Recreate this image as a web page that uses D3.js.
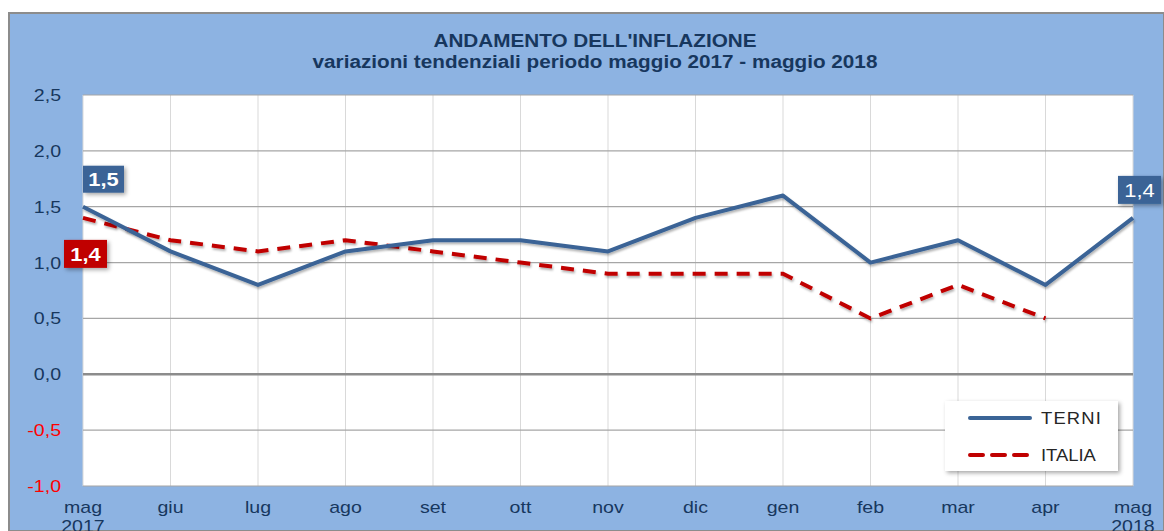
<!DOCTYPE html>
<html>
<head>
<meta charset="utf-8">
<script src="https://cdn.jsdelivr.net/npm/d3@7"></script>
<style>
  html, body { margin: 0; padding: 0; background: #fff; }
  svg { display: block; font-family: "Liberation Sans", Arial, sans-serif; }
</style>
</head>
<body>
<div id="outlet"></div>
<script>
// chart data
const months = ["mag", "giu", "lug", "ago", "set", "ott", "nov", "dic", "gen", "feb", "mar", "apr", "mag"];
const years = ["2017", "", "", "", "", "", "", "", "", "", "", "", "2018"];
const terni = [1.5, 1.1, 0.8, 1.1, 1.2, 1.2, 1.1, 1.4, 1.6, 1.0, 1.2, 0.8, 1.4];
const italia = [1.4, 1.2, 1.1, 1.2, 1.1, 1.0, 0.9, 0.9, 0.9, 0.5, 0.8, 0.5, null];
const yTicks = [-1.0, -0.5, 0.0, 0.5, 1.0, 1.5, 2.0, 2.5];
const title = "ANDAMENTO DELL'INFLAZIONE";
const subtitle = "variazioni tendenziali periodo maggio 2017 - maggio 2018";

const width = 1164, height = 531;
const marginTop = 95, marginRight = 31, marginBottom = 45, marginLeft = 83;
const blueBg = "#8db3e2", textBlue = "#17375e";
const terniColor = "#3a6496", italiaColor = "#c00000";
const stretch = 1.15; // the original text is a bit wider than the font

const fmt = (v) => d3.format(".1f")(v).replace(".", ",").replace("−", "-");

const xScale = d3.scalePoint()
  .domain(d3.range(months.length))
  .range([marginLeft, width - marginRight]);
const yScale = d3.scaleLinear()
  .domain([-1, 2.5])
  .range([height - marginBottom, marginTop]);

const svg = d3.select("#outlet")
  .append("svg")
  .attr("width", width)
  .attr("height", height);

const defs = svg.append("defs");
const shadow = defs.append("filter").attr("id", "shadow")
  .attr("x", "-20%").attr("y", "-20%").attr("width", "150%").attr("height", "160%");
shadow.append("feDropShadow")
  .attr("dx", 2).attr("dy", 2).attr("stdDeviation", 2)
  .attr("flood-color", "#000").attr("flood-opacity", 0.35);
const lineShadow = defs.append("filter").attr("id", "lineShadow")
  .attr("x", "-5%").attr("y", "-20%").attr("width", "110%").attr("height", "140%");
lineShadow.append("feDropShadow")
  .attr("dx", 1).attr("dy", 2).attr("stdDeviation", 1.2)
  .attr("flood-color", "#000").attr("flood-opacity", 0.3);

// background panel
svg.append("rect")
  .attr("x", 9).attr("y", 13)
  .attr("width", width - 9).attr("height", height - 13)
  .attr("fill", blueBg)
  .attr("stroke", "#8c8c8c").attr("stroke-width", 2);

// plot area
svg.append("rect")
  .attr("x", marginLeft).attr("y", marginTop)
  .attr("width", width - marginRight - marginLeft)
  .attr("height", height - marginBottom - marginTop)
  .attr("fill", "#fff");

// titles
svg.append("text")
  .attr("class", "wide")
  .attr("x", 595).attr("y", 47)
  .attr("text-anchor", "middle")
  .attr("font-size", 18).attr("font-weight", "bold")
  .attr("fill", textBlue)
  .text(title);
svg.append("text")
  .attr("class", "wide")
  .attr("x", 595).attr("y", 68)
  .attr("text-anchor", "middle")
  .attr("font-size", 18).attr("font-weight", "bold")
  .attr("fill", textBlue)
  .text(subtitle);

// vertical grid
svg.append("g")
  .selectAll("line")
  .data(d3.range(months.length))
  .join("line")
  .attr("x1", (i) => xScale(i)).attr("x2", (i) => xScale(i))
  .attr("y1", marginTop).attr("y2", height - marginBottom)
  .attr("stroke", "#d9d9d9").attr("stroke-width", 1);

// horizontal grid
svg.append("g")
  .selectAll("line")
  .data(yTicks)
  .join("line")
  .attr("x1", marginLeft).attr("x2", width - marginRight)
  .attr("y1", (d) => yScale(d)).attr("y2", (d) => yScale(d))
  .attr("stroke", (d) => (d === 0 ? "#8c8c8c" : "#a6a6a6"))
  .attr("stroke-width", (d) => (d === 0 ? 2.5 : 1.2));

// y axis labels
const yAxis = d3.axisLeft(yScale).tickValues(yTicks).tickFormat(fmt).tickSize(0).tickPadding(22);
svg.append("g")
  .attr("transform", `translate(${marginLeft},0)`)
  .call(yAxis)
  .call((g) => g.select(".domain").remove())
  .call((g) => g.selectAll("text")
    .attr("class", "wide")
    .attr("font-family", "Liberation Sans, Arial, sans-serif")
    .attr("font-size", 17)
    .attr("fill", (d) => (d < 0 ? "#ff0000" : textBlue)));

// x axis labels
const xAxis = svg.append("g");
xAxis.selectAll("text.m")
  .data(d3.range(months.length))
  .join("text")
  .attr("class", "m wide")
  .attr("x", (i) => xScale(i))
  .attr("y", height - marginBottom + 27)
  .attr("text-anchor", "middle")
  .attr("font-size", 17)
  .attr("fill", textBlue)
  .text((i) => months[i]);
xAxis.selectAll("text.y")
  .data(d3.range(months.length).filter((i) => years[i]))
  .join("text")
  .attr("class", "y wide")
  .attr("x", (i) => xScale(i))
  .attr("y", height - marginBottom + 46)
  .attr("text-anchor", "middle")
  .attr("font-size", 17)
  .attr("fill", textBlue)
  .text((i) => years[i]);

// lines
const line = d3.line()
  .defined((d) => d != null)
  .x((d, i) => xScale(i))
  .y((d) => yScale(d));

svg.append("path")
  .datum(italia)
  .attr("d", line)
  .attr("fill", "none")
  .attr("stroke", italiaColor)
  .attr("stroke-width", 4)
  .attr("stroke-dasharray", "13,9")
  .attr("filter", "url(#lineShadow)");

svg.append("path")
  .datum(terni)
  .attr("d", line)
  .attr("fill", "none")
  .attr("stroke", terniColor)
  .attr("stroke-width", 4)
  .attr("stroke-linejoin", "round")
  .attr("filter", "url(#lineShadow)");

// data labels
function dataLabel(x, y, w, h, fill, txt, bold) {
  const g = svg.append("g");
  g.append("rect")
    .attr("x", x).attr("y", y).attr("width", w).attr("height", h)
    .attr("fill", fill).attr("filter", "url(#shadow)");
  g.append("text")
    .attr("class", "wide")
    .attr("x", x + w / 2).attr("y", y + h / 2 + 7)
    .attr("text-anchor", "middle")
    .attr("font-size", 19)
    .attr("font-weight", bold ? "bold" : "normal")
    .attr("fill", "#fff")
    .text(txt);
}
const last = terni.length - 1;
dataLabel(xScale(0), yScale(terni[0]) - 41, 41, 27, terniColor, fmt(terni[0]), true);
dataLabel(xScale(0) - 19, yScale(italia[0]) + 22, 43, 28, italiaColor, fmt(italia[0]), true);
dataLabel(xScale(last) - 15, yScale(terni[last]) - 42, 43, 28, terniColor, fmt(terni[last]), false);

// legend
const legend = svg.append("g").attr("transform", "translate(945,401)");
legend.append("rect")
  .attr("width", 173).attr("height", 70)
  .attr("fill", "#fff").attr("filter", "url(#shadow)");
const legendItems = [
  { name: "TERNI", color: terniColor, dash: null },
  { name: "ITALIA", color: italiaColor, dash: "13,9" }
];
legendItems.forEach((d, i) => {
  const y = 17 + i * 37;
  legend.append("line")
    .attr("x1", 25).attr("x2", 85).attr("y1", y).attr("y2", y)
    .attr("stroke", d.color).attr("stroke-width", 4)
    .attr("stroke-linecap", "round")
    .attr("stroke-dasharray", d.dash);
  legend.append("text")
    .attr("class", "wide")
    .attr("x", 96).attr("y", y + 6)
    .attr("font-size", 16)
    .attr("letter-spacing", d.name === "TERNI" ? 1 : 0)
    .attr("fill", "#262626")
    .text(d.name);
});

// widen text a little to match the original's letter shapes
svg.selectAll("text.wide").each(function () {
  const len = this.getComputedTextLength();
  d3.select(this)
    .attr("textLength", len * stretch)
    .attr("lengthAdjust", "spacingAndGlyphs");
});
</script>
</body>
</html>
